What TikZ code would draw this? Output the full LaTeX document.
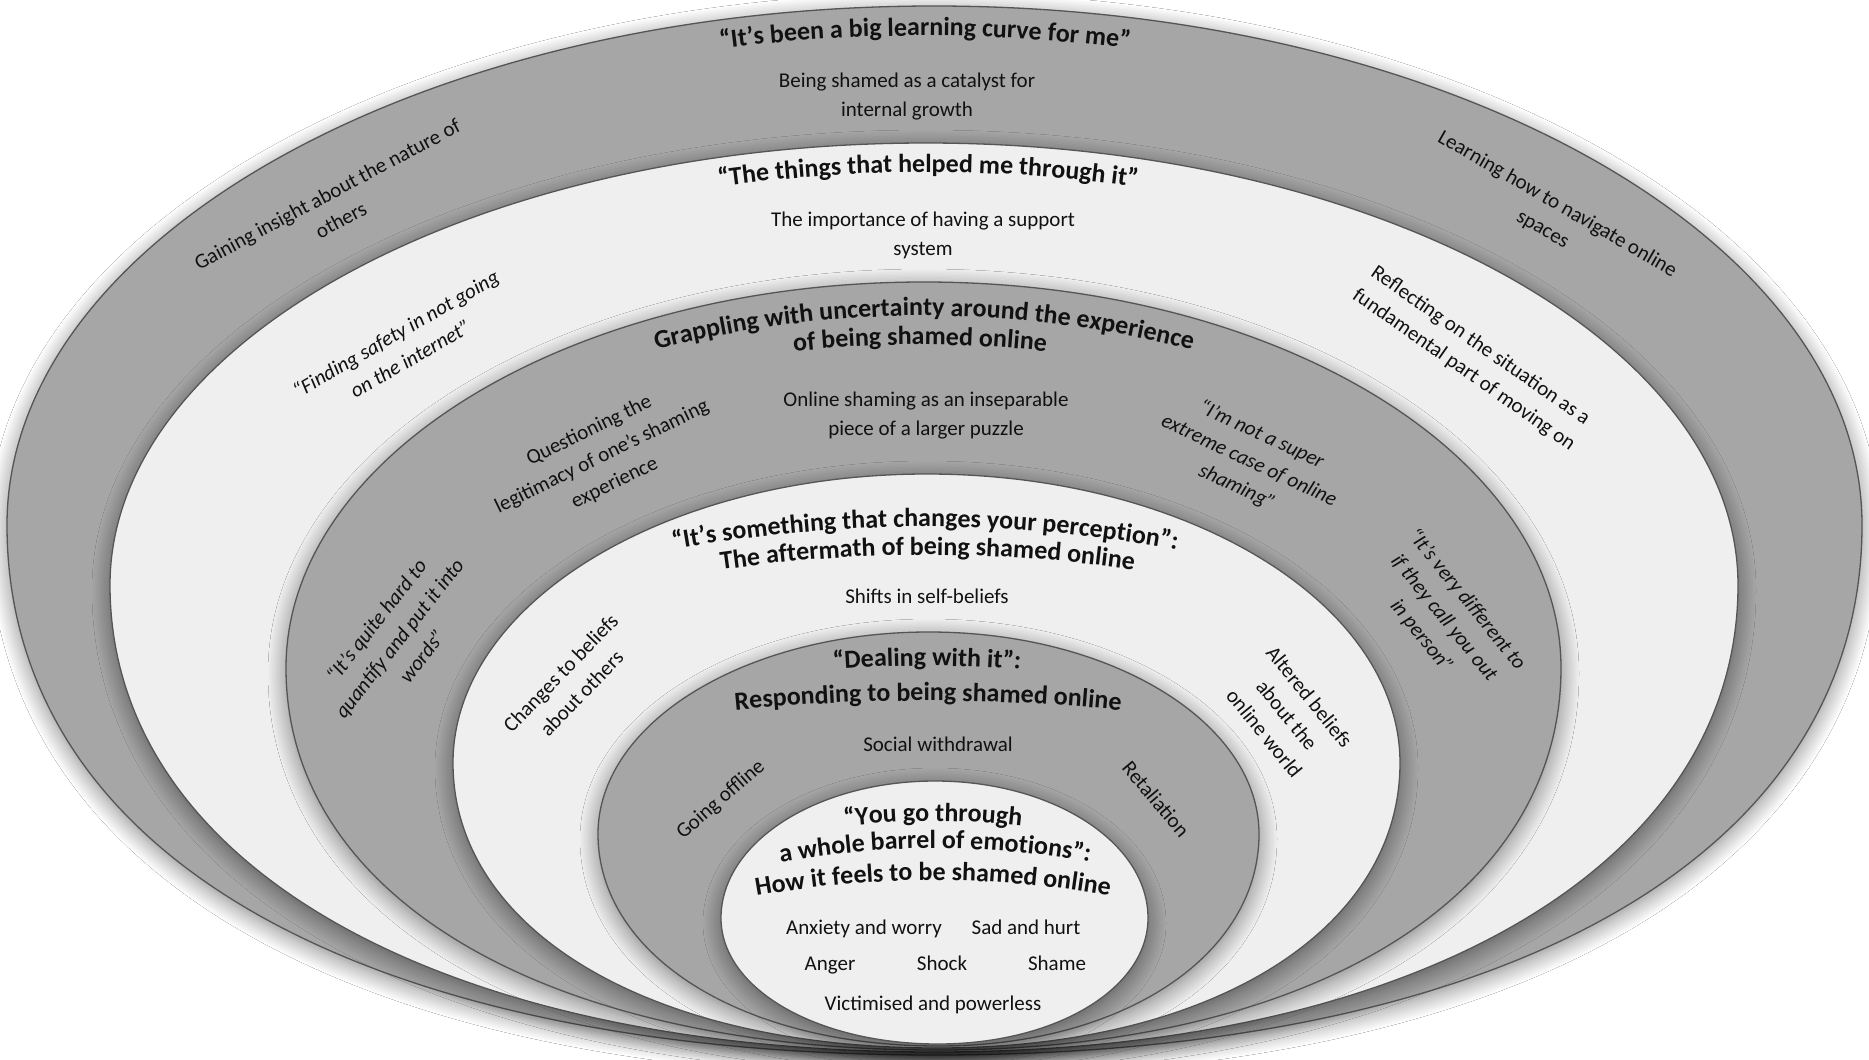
\documentclass[tikz,border=0pt]{standalone}
\usepackage{fontspec}
\setmainfont{Carlito}
\usetikzlibrary{decorations.text,shadows.blur}
\definecolor{ringgray}{HTML}{A6A6A6}
\definecolor{ringlight}{HTML}{EFEFEF}
\definecolor{edgegray}{HTML}{555555}
\definecolor{inkc}{HTML}{111111}
\newcommand\titlefont{\fontsize{26}{31}\selectfont\bfseries}
\newcommand\bodyfont{\fontsize{21}{29}\selectfont}
% #1 lx, #2 rx, #3 wy, #4 tx, #5 ty, #6 bx, #7 by, #8 a, #9 b
\newcommand\funnelpath[9]{%
 (#1,#3) .. controls (#1,{#3-0.5523*(#3-#5)}) and ({#4-0.5523*(#4-#1)},#5) .. (#4,#5)
 .. controls ({#4+0.5523*(#2-#4)},#5) and (#2,{#3-0.5523*(#3-#5)}) .. (#2,#3)
 .. controls (#2,{#3+#8*(#7-#3)}) and ({#6+#9*(#2-#6)},#7) .. (#6,#7)
 .. controls ({#6-#9*(#6-#1)},#7) and (#1,{#3+#8*(#7-#3)}) .. cycle}
\tikzset{
 layer/.style={draw=edgegray, line width=1.3pt,
   blur shadow={shadow xshift=0pt, shadow yshift=-5pt, shadow blur radius=18pt,
   shadow blur steps=14, shadow opacity=48}},
 grayring/.style={layer, fill=ringgray},
 lightring/.style={layer, fill=ringlight},
 body/.style={font=\bodyfont, text=inkc, align=center, inner sep=0pt},
 bodyit/.style={body, font=\bodyfont\itshape},
 arcline/.style={decorate, decoration={text along path, text align=center, text color=inkc}}
}
\begin{document}
\begin{tikzpicture}[x=1pt,y=-1pt]
\useasboundingbox (0,0) rectangle (1869,1060);
\fill[white] (0,0) rectangle (1869,1060);
% funnel layers
\path[grayring]  \funnelpath{7}{1862}{525}{934}{6}{935}{1055}{0.62}{0.62};
\path[lightring] \funnelpath{110}{1738}{585}{926}{143}{935}{1052}{0.6}{0.6};
\path[grayring]  \funnelpath{286}{1561}{668}{924}{282}{936}{1050}{0.6}{0.6};
\path[lightring] \funnelpath{453}{1400}{763}{927}{474}{937}{1048}{0.58}{0.6};
\path[grayring]  \funnelpath{598}{1259}{834}{929}{632}{938}{1046}{0.57}{0.58};
\path[lightring] \funnelpath{721}{1148}{918}{935}{781}{938}{1044}{0.56}{0.56};
% arched titles
\path[arcline, decoration={text={|\titlefont|“It's been a big learning curve for me”}}]
  (690,53) .. controls (847,30) and (1003,30) .. (1160,53);
\path[arcline, decoration={text={|\titlefont|“The things that helped me through it”}}]
  (690,191) .. controls (849,166) and (1007,166) .. (1166,191);
\path[arcline, decoration={text={|\titlefont|Grappling with uncertainty around the experience}}]
  (640,354) .. controls (829,303) and (1019,303) .. (1208,354);
\path[arcline, decoration={text={|\titlefont|of being shamed online}}]
  (780,353) .. controls (873,342) and (967,342) .. (1060,353);
\path[arcline, decoration={text={|\titlefont|“It's something that changes your perception”:}}]
  (655,553) .. controls (835,518) and (1015,518) .. (1195,553);
\path[arcline, decoration={text={|\titlefont|The aftermath of being shamed online}}]
  (700,573) .. controls (852,549) and (1003,549) .. (1155,573);
\path[arcline, decoration={text={|\titlefont|“Dealing with it”:}}]
  (817,671) .. controls (890,664) and (964,664) .. (1037,671);
\path[arcline, decoration={text={|\titlefont|Responding to being shamed online}}]
  (720,712) .. controls (859,697) and (997,697) .. (1136,712);
\path[arcline, decoration={text={|\titlefont|“You go through}}]
  (830,828) .. controls (899,819) and (967,819) .. (1036,828);
\path[arcline, decoration={text={|\titlefont|a whole barrel of emotions”:}}]
  (765,865) .. controls (878,843) and (992,843) .. (1105,865);
\path[arcline, decoration={text={|\titlefont|How it feels to be shamed online}}]
  (740,899) .. controls (869,874) and (997,874) .. (1126,899);
% centred sub-themes
\node[body] (g1) at (907,97) {Being shamed as a catalyst for\\internal growth};
\node[body] (g2) at (923,235) {The importance of having a support\\system};
\node[body] (g3) at (926,416) {Online shaming as an inseparable\\piece of a larger puzzle};
\node[body] (g4) at (927,596) {Shifts in self-beliefs};
\node[body] (g5) at (938,744) {Social withdrawal};
\node[body, anchor=base] (e1) at (864,934) {Anxiety and worry};
\node[body, anchor=base] (e2) at (1026,934) {Sad and hurt};
\node[body, anchor=base] (e3) at (830,970) {Anger};
\node[body, anchor=base] (e4) at (942,970) {Shock};
\node[body, anchor=base] (e5) at (1057,970) {Shame};
\node[body, anchor=base] (e6) at (933,1010) {Victimised and powerless};
% side sub-themes
\node[body, rotate=28] (s1) at (334,207) {Gaining insight about the nature of\\others};
\node[body, rotate=-30] (s2) at (1550,217) {Learning how to navigate online\\spaces};
\node[bodyit, rotate=30] (s3) at (403,346) {“Finding safety in not going\\on the internet”};
\node[body, rotate=-35] (s4) at (1472,358) {Reflecting on the situation as a\\fundamental part of moving on};
\node[body, rotate=26] (s5) at (602,457) {Questioning the\\legitimacy of one’s shaming\\experience};
\node[bodyit, rotate=-25] (s6) at (1249,461) {“I’m not a super\\extreme case of online\\shaming”};
\node[bodyit, rotate=52] (s7) at (399,638) {“It’s quite hard to\\quantify and put it into\\words”};
\node[bodyit, rotate=-51] (s8) at (1444,618) {“It’s very different to\\if they call you out\\in person”};
\node[body, rotate=46] (s9) at (571,683) {Changes to beliefs\\about others};
\node[body, rotate=-51] (s10) at (1287,715) {Altered beliefs\\about the\\online world};
\node[body, rotate=41] (s11) at (721,800) {Going offline};
\node[body, rotate=-50] (s12) at (1156,799) {Retaliation};
\end{tikzpicture}
\end{document}
